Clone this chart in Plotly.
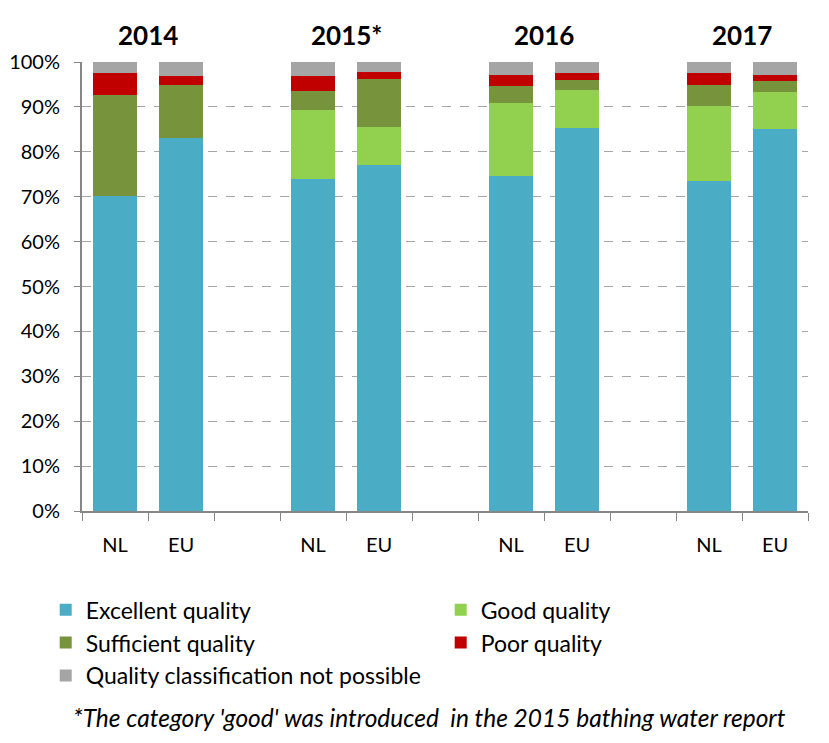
import plotly.graph_objects as go

# bar slots: NL/EU for each year, with an empty slot between years
slots = ["NL_2014", "EU_2014", "gap1", "NL_2015", "EU_2015", "gap2",
         "NL_2016", "EU_2016", "gap3", "NL_2017", "EU_2017"]
slot_labels = ["NL", "EU", "", "NL", "EU", "", "NL", "EU", "", "NL", "EU"]
years = ["2014", "2015*", "2016", "2017"]

# shares in %, None for the empty slots
excellent = [70.2, 83.1, None, 74.0, 77.1, None, 74.7, 85.4, None, 73.4, 85.0]
good = [0.0, 0.0, None, 15.4, 8.5, None, 16.2, 8.4, None, 16.8, 8.4]
sufficient = [22.4, 11.8, None, 4.1, 10.6, None, 3.8, 2.3, None, 4.7, 2.4]
poor = [5.0, 2.0, None, 3.4, 1.5, None, 2.5, 1.5, None, 2.7, 1.4]
not_possible = [2.4, 3.1, None, 3.1, 2.3, None, 2.8, 2.4, None, 2.4, 2.8]

series = [
    ("Excellent quality", excellent, "#4BACC6"),
    ("Good quality", good, "#92D050"),
    ("Sufficient quality", sufficient, "#77933C"),
    ("Poor quality", poor, "#C00000"),
    ("Quality classification not possible", not_possible, "#A5A5A5"),
]

FONT = "Lato, 'Open Sans', sans-serif"

fig = go.Figure()
for name, vals, col in series:
    fig.add_trace(go.Bar(x=slots, y=vals, name=name, marker_color=col,
                         marker_line_width=0, width=0.68))

# year headings above each NL/EU pair
for i, yr in enumerate(years):
    fig.add_annotation(x=3 * i + 0.5, xref="x", y=1, yref="paper", yanchor="bottom",
                       yshift=9, text="<b>%s</b>" % yr, showarrow=False,
                       font=dict(size=26, color="black", family=FONT))

fig.add_annotation(x=0.479, xref="paper", y=-0.459, yref="paper", xanchor="center",
                   yanchor="middle",
                   text="<i>*The category 'good' was introduced  in the 2015 bathing water report</i>",
                   showarrow=False, font=dict(size=24.5, color="black", family=FONT))

# page body has an 8px margin, so the figure is a bit smaller than the window
fig.update_layout(
    width=821, height=735,
    barmode="stack",
    plot_bgcolor="white", paper_bgcolor="white",
    margin=dict(l=74, r=21, t=54, b=232, autoexpand=False),
    font=dict(family=FONT, size=20, color="black"),
    showlegend=True,
    legend=dict(orientation="h", x=-0.05, y=-0.172, xanchor="left", yanchor="top",
                entrywidth=350, entrywidthmode="pixels", traceorder="normal",
                font=dict(size=23)),
    xaxis=dict(type="category", categoryorder="array", categoryarray=slots,
               tickvals=slots, ticktext=slot_labels, tickson="boundaries",
               ticks="outside", ticklen=8, tickcolor="#868686",
               ticklabelstandoff=15,
               showline=True, linecolor="#868686", linewidth=2,
               showgrid=False, range=[-0.5, 10.5]),
    yaxis=dict(range=[0, 100], dtick=10, ticksuffix="%",
               ticks="outside", ticklen=6, tickcolor="#868686",
               ticklabelstandoff=10,
               showline=True, linecolor="#868686", linewidth=2,
               showgrid=True, gridcolor="#A6A6A6", griddash="dash",
               zeroline=False),
)

fig.write_html("out.html")
